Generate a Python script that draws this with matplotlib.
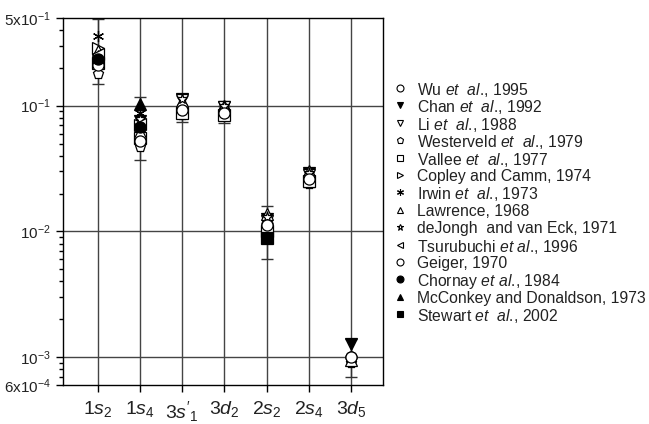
import numpy as np
import matplotlib
matplotlib.use('Agg')
import matplotlib.pyplot as plt
from matplotlib.lines import Line2D

plt.rcParams['font.family'] = ['Liberation Sans', 'DejaVu Sans']
plt.rcParams['mathtext.fontset'] = 'custom'
plt.rcParams['mathtext.rm'] = 'Liberation Sans'
plt.rcParams['mathtext.it'] = 'Liberation Sans:italic'

# transitions (x axis)
levels = [r'1$\mathit{s}_{2}$', r'1$\mathit{s}_{4}$', r"3$\mathit{s}'_{1}$", r'3$\mathit{d}_{2}$',
          r'2$\mathit{s}_{2}$', r'2$\mathit{s}_{4}$', r'3$\mathit{d}_{5}$']

# values per source, one entry per transition (nan = not measured)
nan = np.nan
wu         = [0.240, 0.060, 0.095, 0.090, 0.0115, 0.0270, 0.00100]
chan       = [0.250, 0.075, 0.112, 0.098, 0.0125, 0.0290, 0.00127]
li         = [0.230, 0.065, 0.110, 0.097, 0.0120, 0.0280, nan]
westerveld = [0.180, 0.047, 0.085, 0.083, 0.0105, 0.0240, 0.00089]
vallee     = [0.220, 0.055, 0.088, 0.085, 0.0100, 0.0250, nan]
copley     = [0.290, 0.070, nan, nan, nan, nan, nan]
irwin      = [0.360, 0.088, 0.098, 0.092, nan, nan, nan]
lawrence   = [0.270, 0.062, 0.108, 0.100, 0.0138, 0.0300, 0.00095]
dejongh    = [0.250, 0.078, 0.113, 0.099, 0.0130, 0.0290, nan]
tsurubuchi = [0.260, 0.072, nan, nan, nan, nan, nan]
geiger     = [0.210, 0.052, 0.092, 0.088, 0.0112, 0.0260, 0.00101]
chornay    = [0.235, 0.068, nan, nan, nan, nan, nan]
mcconkey   = [nan, 0.103, nan, nan, nan, nan, nan]
stewart    = [nan, nan, nan, nan, 0.0088, nan, nan]

# error bar extents per transition
err_lo = [0.150, 0.037, 0.074, 0.073, 0.0060, 0.0225, 0.00069]
err_hi = [0.490, 0.118, 0.120, 0.100, 0.0158, 0.0320, 0.00140]

sources = [
    ('Wu $\\mathit{et\\ \\ al}$., 1995', wu, 'o', 'white'),
    ('Chan $\\mathit{et\\ \\ al}$., 1992', chan, 'v', 'black'),
    ('Li $\\mathit{et\\ \\ al}$., 1988', li, 'v', 'white'),
    ('Westerveld $\\mathit{et\\ \\ al}$., 1979', westerveld, 'p', 'white'),
    ('Vallee $\\mathit{et\\ \\ al}$., 1977', vallee, 's', 'white'),
    ('Copley and Camm, 1974', copley, '>', 'white'),
    ('Irwin $\\mathit{et\\ \\ al}$., 1973', irwin, (6, 2, 0), 'black'),
    ('Lawrence, 1968', lawrence, '^', 'white'),
    ('deJongh  and van Eck, 1971', dejongh, '*', 'white'),
    ('Tsurubuchi $\\mathit{et\\ al}$., 1996', tsurubuchi, '<', 'white'),
    ('Geiger, 1970', geiger, 'o', 'white'),
    ('Chornay $\\mathit{et\\ al}$., 1984', chornay, 'o', 'black'),
    ('McConkey and Donaldson, 1973', mcconkey, '^', 'black'),
    ('Stewart $\\mathit{et\\ \\ al}$., 2002', stewart, 's', 'black'),
]

x = np.arange(1, len(levels) + 1)

W, H = 649, 424
fig = plt.figure(figsize=(W / 100, H / 100), dpi=100)
ax = fig.add_axes([0.097, 0.092, 0.493, 0.866])

# grid: one vertical line per transition, decades horizontally
for xi in x:
    ax.axvline(xi, color='#444444', lw=1.0, zorder=1)
for yv in [1e-1, 1e-2, 1e-3]:
    ax.axhline(yv, color='#444444', lw=1.0, zorder=1)

# error bars
lo = np.array(err_lo)
hi = np.array(err_hi)
mid = np.sqrt(lo * hi)
ax.errorbar(x, mid, yerr=[mid - lo, hi - mid], fmt='none', ecolor='#333333',
            elinewidth=1.0, capsize=4, capthick=1.0, zorder=2)

for label, vals, mk, fc in sources:
    ax.plot(x, vals, linestyle='none', marker=mk, markersize=8,
            markerfacecolor=fc, markeredgecolor='black', markeredgewidth=0.9,
            zorder=3)

ax.set_yscale('log')
ax.set_ylim(6e-4, 5e-1)
ax.set_xlim(0.17, 7.76)

ax.set_xticks(x)
ax.set_xticklabels(levels, fontsize=14, color='#222222')
ax.set_yticks([6e-4, 1e-3, 1e-2, 1e-1, 5e-1])
ax.set_yticklabels([r'6x10$^{\mathregular{-4}}$', r'10$^{\mathregular{-3}}$',
                    r'10$^{\mathregular{-2}}$', r'10$^{\mathregular{-1}}$',
                    r'5x10$^{\mathregular{-1}}$'], fontsize=11, color='#222222')
ax.tick_params(axis='x', direction='out', length=5, width=1, pad=5)
ax.tick_params(axis='y', which='major', direction='out', length=5, width=1)
ax.tick_params(axis='y', which='minor', direction='out', length=3, width=1)
for sp in ax.spines.values():
    sp.set_linewidth(1.0)

# legend, laid out row by row (pixel positions from the top-left corner)
row0, row_step = 88, 17.4
mark_x, text_x = 400, 417
for i, (label, vals, mk, fc) in enumerate(sources):
    yy = 1 - (row0 + i * row_step) / H
    fig.add_artist(Line2D([mark_x / W], [yy], transform=fig.transFigure,
                          linestyle='none', marker=mk, markersize=5.0,
                          markerfacecolor=fc, markeredgecolor='black',
                          markeredgewidth=0.8))
    fig.text(text_x / W, yy, label, fontsize=11.3, color='#222222',
             ha='left', va='center_baseline')

plt.savefig('out.png', dpi=100)
